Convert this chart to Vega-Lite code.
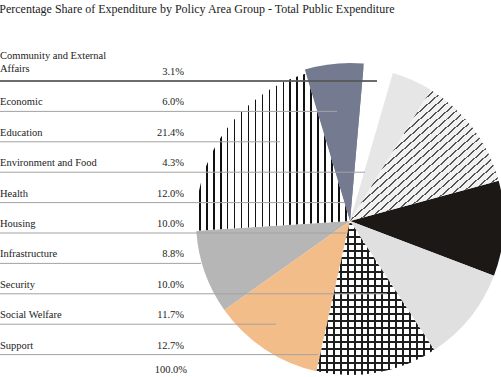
{
  "$schema": "https://vega.github.io/schema/vega-lite/v6.json",
  "width": 501,
  "height": 357,
  "autosize": "none",
  "padding": {"top": 20, "left": 0, "right": 0, "bottom": 0},
  "background": "white",
  "title": {"text": "Percentage Share of Expenditure by Policy Area Group - Total Public Expenditure", "anchor": "start", "font": "Liberation Serif", "fontSize": 12, "fontWeight": "normal", "color": "#222222", "offset": 4},
  "config": {"view": {"stroke": null}},
  "data": {"values": [
    {"Category": "Community and External Affairs", "pct": 3.1, "order": 1, "pie": 1},
    {"Category": "Economic", "pct": 6.0, "order": 2, "pie": 10},
    {"Category": "Education", "pct": 21.4, "order": 3, "pie": 9},
    {"Category": "Environment and Food", "pct": 4.3, "order": 4, "pie": 2},
    {"Category": "Health", "pct": 12.0, "order": 5, "pie": 3},
    {"Category": "Housing", "pct": 10.0, "order": 6, "pie": 4},
    {"Category": "Infrastructure", "pct": 8.8, "order": 7, "pie": 8},
    {"Category": "Security", "pct": 10.0, "order": 8, "pie": 5},
    {"Category": "Social Welfare", "pct": 11.7, "order": 9, "pie": 7},
    {"Category": "Support", "pct": 12.7, "order": 10, "pie": 6}
  ]},
  "transform": [
    {"stack": "pct", "groupby": [], "sort": [{"field": "pie", "order": "ascending"}], "as": ["v0", "v1"]},
    {"calculate": "format(datum.pct, '.1f') + '%'", "as": "pctLabel"}
  ],
  "layer": [
    {
      "mark": {"type": "arc", "radius": 154},
      "encoding": {
        "x": {"datum": 350, "type": "quantitative", "scale": {"domain": [0, 501], "nice": false, "zero": false}, "axis": null},
        "y": {"datum": 5.605, "type": "quantitative", "scale": {"domain": [-1.00658, 10.7368], "nice": false, "zero": false, "reverse": true}, "axis": null},
        "theta": {"field": "v0", "type": "quantitative", "scale": {"domain": [0, 100], "range": [0.0873, 6.3705]}},
        "theta2": {"field": "v1"},
        "fill": {"field": "Category", "type": "nominal", "legend": null,
          "scale": {"domain": ["Community and External Affairs", "Economic", "Education", "Environment and Food", "Health", "Housing", "Infrastructure", "Security", "Social Welfare", "Support"],
                    "range": ["#ffffff", "#747b90", "#ffffff", "#e6e6e6", "#f2f2f2", "#1b1816", "#b6b6b6", "#e0e0e0", "#f3bd8a", "#ffffff"]}}
      }
    },
    {
      "transform": [{"filter": "datum.Category == 'Health'"}],
      "mark": {"type": "arc", "radius": 154, "fill": {"gradient": "linear", "x1": 0, "y1": 0, "x2": 1, "y2": 1, "stops": [
        {"offset": 0, "color": "#f2f2f2"},
        {"offset": 0.0100, "color": "#f2f2f2"}, {"offset": 0.0100, "color": "#555555"}, {"offset": 0.0167, "color": "#555555"}, {"offset": 0.0167, "color": "#f2f2f2"},
        {"offset": 0.0403, "color": "#f2f2f2"}, {"offset": 0.0403, "color": "#555555"}, {"offset": 0.0470, "color": "#555555"}, {"offset": 0.0470, "color": "#f2f2f2"},
        {"offset": 0.0706, "color": "#f2f2f2"}, {"offset": 0.0706, "color": "#555555"}, {"offset": 0.0773, "color": "#555555"}, {"offset": 0.0773, "color": "#f2f2f2"},
        {"offset": 0.1009, "color": "#f2f2f2"}, {"offset": 0.1009, "color": "#555555"}, {"offset": 0.1076, "color": "#555555"}, {"offset": 0.1076, "color": "#f2f2f2"},
        {"offset": 0.1312, "color": "#f2f2f2"}, {"offset": 0.1312, "color": "#555555"}, {"offset": 0.1379, "color": "#555555"}, {"offset": 0.1379, "color": "#f2f2f2"},
        {"offset": 0.1615, "color": "#f2f2f2"}, {"offset": 0.1615, "color": "#555555"}, {"offset": 0.1682, "color": "#555555"}, {"offset": 0.1682, "color": "#f2f2f2"},
        {"offset": 0.1918, "color": "#f2f2f2"}, {"offset": 0.1918, "color": "#555555"}, {"offset": 0.1985, "color": "#555555"}, {"offset": 0.1985, "color": "#f2f2f2"},
        {"offset": 0.2221, "color": "#f2f2f2"}, {"offset": 0.2221, "color": "#555555"}, {"offset": 0.2288, "color": "#555555"}, {"offset": 0.2288, "color": "#f2f2f2"},
        {"offset": 0.2524, "color": "#f2f2f2"}, {"offset": 0.2524, "color": "#555555"}, {"offset": 0.2591, "color": "#555555"}, {"offset": 0.2591, "color": "#f2f2f2"},
        {"offset": 0.2827, "color": "#f2f2f2"}, {"offset": 0.2827, "color": "#555555"}, {"offset": 0.2894, "color": "#555555"}, {"offset": 0.2894, "color": "#f2f2f2"},
        {"offset": 0.3130, "color": "#f2f2f2"}, {"offset": 0.3130, "color": "#555555"}, {"offset": 0.3197, "color": "#555555"}, {"offset": 0.3197, "color": "#f2f2f2"},
        {"offset": 0.3433, "color": "#f2f2f2"}, {"offset": 0.3433, "color": "#555555"}, {"offset": 0.3500, "color": "#555555"}, {"offset": 0.3500, "color": "#f2f2f2"},
        {"offset": 0.3736, "color": "#f2f2f2"}, {"offset": 0.3736, "color": "#555555"}, {"offset": 0.3803, "color": "#555555"}, {"offset": 0.3803, "color": "#f2f2f2"},
        {"offset": 0.4039, "color": "#f2f2f2"}, {"offset": 0.4039, "color": "#555555"}, {"offset": 0.4106, "color": "#555555"}, {"offset": 0.4106, "color": "#f2f2f2"},
        {"offset": 0.4342, "color": "#f2f2f2"}, {"offset": 0.4342, "color": "#555555"}, {"offset": 0.4409, "color": "#555555"}, {"offset": 0.4409, "color": "#f2f2f2"},
        {"offset": 0.4645, "color": "#f2f2f2"}, {"offset": 0.4645, "color": "#555555"}, {"offset": 0.4712, "color": "#555555"}, {"offset": 0.4712, "color": "#f2f2f2"},
        {"offset": 0.4948, "color": "#f2f2f2"}, {"offset": 0.4948, "color": "#555555"}, {"offset": 0.5015, "color": "#555555"}, {"offset": 0.5015, "color": "#f2f2f2"},
        {"offset": 0.5252, "color": "#f2f2f2"}, {"offset": 0.5252, "color": "#555555"}, {"offset": 0.5319, "color": "#555555"}, {"offset": 0.5319, "color": "#f2f2f2"},
        {"offset": 0.5555, "color": "#f2f2f2"}, {"offset": 0.5555, "color": "#555555"}, {"offset": 0.5622, "color": "#555555"}, {"offset": 0.5622, "color": "#f2f2f2"},
        {"offset": 0.5858, "color": "#f2f2f2"}, {"offset": 0.5858, "color": "#555555"}, {"offset": 0.5925, "color": "#555555"}, {"offset": 0.5925, "color": "#f2f2f2"},
        {"offset": 0.6161, "color": "#f2f2f2"}, {"offset": 0.6161, "color": "#555555"}, {"offset": 0.6228, "color": "#555555"}, {"offset": 0.6228, "color": "#f2f2f2"},
        {"offset": 0.6464, "color": "#f2f2f2"}, {"offset": 0.6464, "color": "#555555"}, {"offset": 0.6531, "color": "#555555"}, {"offset": 0.6531, "color": "#f2f2f2"},
        {"offset": 0.6767, "color": "#f2f2f2"}, {"offset": 0.6767, "color": "#555555"}, {"offset": 0.6834, "color": "#555555"}, {"offset": 0.6834, "color": "#f2f2f2"},
        {"offset": 0.7070, "color": "#f2f2f2"}, {"offset": 0.7070, "color": "#555555"}, {"offset": 0.7137, "color": "#555555"}, {"offset": 0.7137, "color": "#f2f2f2"},
        {"offset": 0.7373, "color": "#f2f2f2"}, {"offset": 0.7373, "color": "#555555"}, {"offset": 0.7440, "color": "#555555"}, {"offset": 0.7440, "color": "#f2f2f2"},
        {"offset": 0.7676, "color": "#f2f2f2"}, {"offset": 0.7676, "color": "#555555"}, {"offset": 0.7743, "color": "#555555"}, {"offset": 0.7743, "color": "#f2f2f2"},
        {"offset": 0.7979, "color": "#f2f2f2"}, {"offset": 0.7979, "color": "#555555"}, {"offset": 0.8046, "color": "#555555"}, {"offset": 0.8046, "color": "#f2f2f2"},
        {"offset": 0.8282, "color": "#f2f2f2"}, {"offset": 0.8282, "color": "#555555"}, {"offset": 0.8349, "color": "#555555"}, {"offset": 0.8349, "color": "#f2f2f2"},
        {"offset": 0.8585, "color": "#f2f2f2"}, {"offset": 0.8585, "color": "#555555"}, {"offset": 0.8652, "color": "#555555"}, {"offset": 0.8652, "color": "#f2f2f2"},
        {"offset": 0.8888, "color": "#f2f2f2"}, {"offset": 0.8888, "color": "#555555"}, {"offset": 0.8955, "color": "#555555"}, {"offset": 0.8955, "color": "#f2f2f2"},
        {"offset": 0.9191, "color": "#f2f2f2"}, {"offset": 0.9191, "color": "#555555"}, {"offset": 0.9258, "color": "#555555"}, {"offset": 0.9258, "color": "#f2f2f2"},
        {"offset": 0.9494, "color": "#f2f2f2"}, {"offset": 0.9494, "color": "#555555"}, {"offset": 0.9561, "color": "#555555"}, {"offset": 0.9561, "color": "#f2f2f2"},
        {"offset": 0.9797, "color": "#f2f2f2"}, {"offset": 0.9797, "color": "#555555"}, {"offset": 0.9864, "color": "#555555"}, {"offset": 0.9864, "color": "#f2f2f2"},
        {"offset": 1, "color": "#f2f2f2"}
      ]}},
      "encoding": {
        "x": {"datum": 350, "type": "quantitative", "axis": null},
        "y": {"datum": 5.605, "type": "quantitative", "axis": null},
        "theta": {"field": "v0", "type": "quantitative", "scale": {"domain": [0, 100], "range": [0.0873, 6.3705]}},
        "theta2": {"field": "v1"}
      }
    },
    {
      "transform": [{"filter": "datum.Category == 'Education'"}],
      "mark": {"type": "arc", "radius": 154, "fill": {"gradient": "linear", "x1": 0, "y1": 0, "x2": 1, "y2": 0, "stops": [
        {"offset": 0, "color": "#ffffff"},
        {"offset": 0.0200, "color": "#ffffff"}, {"offset": 0.0200, "color": "#111111"}, {"offset": 0.0303, "color": "#111111"}, {"offset": 0.0303, "color": "#ffffff"},
        {"offset": 0.0652, "color": "#ffffff"}, {"offset": 0.0652, "color": "#111111"}, {"offset": 0.0755, "color": "#111111"}, {"offset": 0.0755, "color": "#ffffff"},
        {"offset": 0.1103, "color": "#ffffff"}, {"offset": 0.1103, "color": "#111111"}, {"offset": 0.1206, "color": "#111111"}, {"offset": 0.1206, "color": "#ffffff"},
        {"offset": 0.1555, "color": "#ffffff"}, {"offset": 0.1555, "color": "#111111"}, {"offset": 0.1658, "color": "#111111"}, {"offset": 0.1658, "color": "#ffffff"},
        {"offset": 0.2006, "color": "#ffffff"}, {"offset": 0.2006, "color": "#111111"}, {"offset": 0.2109, "color": "#111111"}, {"offset": 0.2109, "color": "#ffffff"},
        {"offset": 0.2458, "color": "#ffffff"}, {"offset": 0.2458, "color": "#111111"}, {"offset": 0.2561, "color": "#111111"}, {"offset": 0.2561, "color": "#ffffff"},
        {"offset": 0.2910, "color": "#ffffff"}, {"offset": 0.2910, "color": "#111111"}, {"offset": 0.3013, "color": "#111111"}, {"offset": 0.3013, "color": "#ffffff"},
        {"offset": 0.3361, "color": "#ffffff"}, {"offset": 0.3361, "color": "#111111"}, {"offset": 0.3464, "color": "#111111"}, {"offset": 0.3464, "color": "#ffffff"},
        {"offset": 0.3813, "color": "#ffffff"}, {"offset": 0.3813, "color": "#111111"}, {"offset": 0.3916, "color": "#111111"}, {"offset": 0.3916, "color": "#ffffff"},
        {"offset": 0.4264, "color": "#ffffff"}, {"offset": 0.4264, "color": "#111111"}, {"offset": 0.4367, "color": "#111111"}, {"offset": 0.4367, "color": "#ffffff"},
        {"offset": 0.4716, "color": "#ffffff"}, {"offset": 0.4716, "color": "#111111"}, {"offset": 0.4819, "color": "#111111"}, {"offset": 0.4819, "color": "#ffffff"},
        {"offset": 0.5168, "color": "#ffffff"}, {"offset": 0.5168, "color": "#111111"}, {"offset": 0.5271, "color": "#111111"}, {"offset": 0.5271, "color": "#ffffff"},
        {"offset": 0.5619, "color": "#ffffff"}, {"offset": 0.5619, "color": "#111111"}, {"offset": 0.5722, "color": "#111111"}, {"offset": 0.5722, "color": "#ffffff"},
        {"offset": 0.6071, "color": "#ffffff"}, {"offset": 0.6071, "color": "#111111"}, {"offset": 0.6174, "color": "#111111"}, {"offset": 0.6174, "color": "#ffffff"},
        {"offset": 0.6522, "color": "#ffffff"}, {"offset": 0.6522, "color": "#111111"}, {"offset": 0.6625, "color": "#111111"}, {"offset": 0.6625, "color": "#ffffff"},
        {"offset": 0.6974, "color": "#ffffff"}, {"offset": 0.6974, "color": "#111111"}, {"offset": 0.7077, "color": "#111111"}, {"offset": 0.7077, "color": "#ffffff"},
        {"offset": 0.7426, "color": "#ffffff"}, {"offset": 0.7426, "color": "#111111"}, {"offset": 0.7529, "color": "#111111"}, {"offset": 0.7529, "color": "#ffffff"},
        {"offset": 0.7877, "color": "#ffffff"}, {"offset": 0.7877, "color": "#111111"}, {"offset": 0.7980, "color": "#111111"}, {"offset": 0.7980, "color": "#ffffff"},
        {"offset": 0.8329, "color": "#ffffff"}, {"offset": 0.8329, "color": "#111111"}, {"offset": 0.8432, "color": "#111111"}, {"offset": 0.8432, "color": "#ffffff"},
        {"offset": 0.8780, "color": "#ffffff"}, {"offset": 0.8780, "color": "#111111"}, {"offset": 0.8883, "color": "#111111"}, {"offset": 0.8883, "color": "#ffffff"},
        {"offset": 0.9232, "color": "#ffffff"}, {"offset": 0.9232, "color": "#111111"}, {"offset": 0.9335, "color": "#111111"}, {"offset": 0.9335, "color": "#ffffff"},
        {"offset": 0.9684, "color": "#ffffff"}, {"offset": 0.9684, "color": "#111111"}, {"offset": 0.9787, "color": "#111111"}, {"offset": 0.9787, "color": "#ffffff"},
        {"offset": 1, "color": "#ffffff"}
      ]}},
      "encoding": {
        "x": {"datum": 350, "type": "quantitative", "axis": null},
        "y": {"datum": 5.605, "type": "quantitative", "axis": null},
        "theta": {"field": "v0", "type": "quantitative", "scale": {"domain": [0, 100], "range": [0.0873, 6.3705]}},
        "theta2": {"field": "v1"}
      }
    },
    {
      "transform": [{"filter": "datum.Category == 'Economic'"}],
      "mark": {"type": "arc", "radius": 158, "fill": "#747b90"},
      "encoding": {
        "x": {"datum": 350, "type": "quantitative", "axis": null},
        "y": {"datum": 5.605, "type": "quantitative", "axis": null},
        "theta": {"field": "v0", "type": "quantitative", "scale": {"domain": [0, 100], "range": [0.0873, 6.3705]}},
        "theta2": {"field": "v1"}
      }
    },
    {
      "transform": [{"filter": "datum.Category == 'Support'"}],
      "mark": {"type": "arc", "radius": 154, "fill": {"gradient": "linear", "x1": 0, "y1": 0, "x2": 1, "y2": 0, "stops": [
        {"offset": 0, "color": "#ffffff"},
        {"offset": 0.020, "color": "#ffffff"}, {"offset": 0.020, "color": "#1e1e1e"}, {"offset": 0.037, "color": "#1e1e1e"}, {"offset": 0.037, "color": "#ffffff"},
        {"offset": 0.079, "color": "#ffffff"}, {"offset": 0.079, "color": "#1e1e1e"}, {"offset": 0.096, "color": "#1e1e1e"}, {"offset": 0.096, "color": "#ffffff"},
        {"offset": 0.138, "color": "#ffffff"}, {"offset": 0.138, "color": "#1e1e1e"}, {"offset": 0.155, "color": "#1e1e1e"}, {"offset": 0.155, "color": "#ffffff"},
        {"offset": 0.197, "color": "#ffffff"}, {"offset": 0.197, "color": "#1e1e1e"}, {"offset": 0.214, "color": "#1e1e1e"}, {"offset": 0.214, "color": "#ffffff"},
        {"offset": 0.256, "color": "#ffffff"}, {"offset": 0.256, "color": "#1e1e1e"}, {"offset": 0.273, "color": "#1e1e1e"}, {"offset": 0.273, "color": "#ffffff"},
        {"offset": 0.315, "color": "#ffffff"}, {"offset": 0.315, "color": "#1e1e1e"}, {"offset": 0.332, "color": "#1e1e1e"}, {"offset": 0.332, "color": "#ffffff"},
        {"offset": 0.374, "color": "#ffffff"}, {"offset": 0.374, "color": "#1e1e1e"}, {"offset": 0.391, "color": "#1e1e1e"}, {"offset": 0.391, "color": "#ffffff"},
        {"offset": 0.433, "color": "#ffffff"}, {"offset": 0.433, "color": "#1e1e1e"}, {"offset": 0.450, "color": "#1e1e1e"}, {"offset": 0.450, "color": "#ffffff"},
        {"offset": 0.492, "color": "#ffffff"}, {"offset": 0.492, "color": "#1e1e1e"}, {"offset": 0.509, "color": "#1e1e1e"}, {"offset": 0.509, "color": "#ffffff"},
        {"offset": 0.551, "color": "#ffffff"}, {"offset": 0.551, "color": "#1e1e1e"}, {"offset": 0.568, "color": "#1e1e1e"}, {"offset": 0.568, "color": "#ffffff"},
        {"offset": 0.610, "color": "#ffffff"}, {"offset": 0.610, "color": "#1e1e1e"}, {"offset": 0.627, "color": "#1e1e1e"}, {"offset": 0.627, "color": "#ffffff"},
        {"offset": 0.669, "color": "#ffffff"}, {"offset": 0.669, "color": "#1e1e1e"}, {"offset": 0.686, "color": "#1e1e1e"}, {"offset": 0.686, "color": "#ffffff"},
        {"offset": 0.728, "color": "#ffffff"}, {"offset": 0.728, "color": "#1e1e1e"}, {"offset": 0.745, "color": "#1e1e1e"}, {"offset": 0.745, "color": "#ffffff"},
        {"offset": 0.787, "color": "#ffffff"}, {"offset": 0.787, "color": "#1e1e1e"}, {"offset": 0.804, "color": "#1e1e1e"}, {"offset": 0.804, "color": "#ffffff"},
        {"offset": 0.846, "color": "#ffffff"}, {"offset": 0.846, "color": "#1e1e1e"}, {"offset": 0.863, "color": "#1e1e1e"}, {"offset": 0.863, "color": "#ffffff"},
        {"offset": 0.905, "color": "#ffffff"}, {"offset": 0.905, "color": "#1e1e1e"}, {"offset": 0.922, "color": "#1e1e1e"}, {"offset": 0.922, "color": "#ffffff"},
        {"offset": 0.964, "color": "#ffffff"}, {"offset": 0.964, "color": "#1e1e1e"}, {"offset": 0.981, "color": "#1e1e1e"}, {"offset": 0.981, "color": "#ffffff"},
        {"offset": 1, "color": "#ffffff"}
      ]}},
      "encoding": {
        "x": {"datum": 350, "type": "quantitative", "axis": null},
        "y": {"datum": 5.605, "type": "quantitative", "axis": null},
        "theta": {"field": "v0", "type": "quantitative", "scale": {"domain": [0, 100], "range": [0.0873, 6.3705]}},
        "theta2": {"field": "v1"}
      }
    },
    {
      "transform": [{"filter": "datum.Category == 'Support'"}],
      "mark": {"type": "arc", "radius": 154, "fill": {"gradient": "linear", "x1": 0, "y1": 0, "x2": 0, "y2": 1, "stops": [
        {"offset": 0, "color": "rgba(255,255,255,0)"},
        {"offset": 0.010, "color": "rgba(255,255,255,0)"}, {"offset": 0.010, "color": "#1e1e1e"}, {"offset": 0.023, "color": "#1e1e1e"}, {"offset": 0.023, "color": "rgba(255,255,255,0)"},
        {"offset": 0.055, "color": "rgba(255,255,255,0)"}, {"offset": 0.055, "color": "#1e1e1e"}, {"offset": 0.068, "color": "#1e1e1e"}, {"offset": 0.068, "color": "rgba(255,255,255,0)"},
        {"offset": 0.100, "color": "rgba(255,255,255,0)"}, {"offset": 0.100, "color": "#1e1e1e"}, {"offset": 0.113, "color": "#1e1e1e"}, {"offset": 0.113, "color": "rgba(255,255,255,0)"},
        {"offset": 0.146, "color": "rgba(255,255,255,0)"}, {"offset": 0.146, "color": "#1e1e1e"}, {"offset": 0.159, "color": "#1e1e1e"}, {"offset": 0.159, "color": "rgba(255,255,255,0)"},
        {"offset": 0.191, "color": "rgba(255,255,255,0)"}, {"offset": 0.191, "color": "#1e1e1e"}, {"offset": 0.204, "color": "#1e1e1e"}, {"offset": 0.204, "color": "rgba(255,255,255,0)"},
        {"offset": 0.236, "color": "rgba(255,255,255,0)"}, {"offset": 0.236, "color": "#1e1e1e"}, {"offset": 0.249, "color": "#1e1e1e"}, {"offset": 0.249, "color": "rgba(255,255,255,0)"},
        {"offset": 0.281, "color": "rgba(255,255,255,0)"}, {"offset": 0.281, "color": "#1e1e1e"}, {"offset": 0.294, "color": "#1e1e1e"}, {"offset": 0.294, "color": "rgba(255,255,255,0)"},
        {"offset": 0.326, "color": "rgba(255,255,255,0)"}, {"offset": 0.326, "color": "#1e1e1e"}, {"offset": 0.339, "color": "#1e1e1e"}, {"offset": 0.339, "color": "rgba(255,255,255,0)"},
        {"offset": 0.372, "color": "rgba(255,255,255,0)"}, {"offset": 0.372, "color": "#1e1e1e"}, {"offset": 0.385, "color": "#1e1e1e"}, {"offset": 0.385, "color": "rgba(255,255,255,0)"},
        {"offset": 0.417, "color": "rgba(255,255,255,0)"}, {"offset": 0.417, "color": "#1e1e1e"}, {"offset": 0.430, "color": "#1e1e1e"}, {"offset": 0.430, "color": "rgba(255,255,255,0)"},
        {"offset": 0.462, "color": "rgba(255,255,255,0)"}, {"offset": 0.462, "color": "#1e1e1e"}, {"offset": 0.475, "color": "#1e1e1e"}, {"offset": 0.475, "color": "rgba(255,255,255,0)"},
        {"offset": 0.507, "color": "rgba(255,255,255,0)"}, {"offset": 0.507, "color": "#1e1e1e"}, {"offset": 0.520, "color": "#1e1e1e"}, {"offset": 0.520, "color": "rgba(255,255,255,0)"},
        {"offset": 0.552, "color": "rgba(255,255,255,0)"}, {"offset": 0.552, "color": "#1e1e1e"}, {"offset": 0.565, "color": "#1e1e1e"}, {"offset": 0.565, "color": "rgba(255,255,255,0)"},
        {"offset": 0.598, "color": "rgba(255,255,255,0)"}, {"offset": 0.598, "color": "#1e1e1e"}, {"offset": 0.611, "color": "#1e1e1e"}, {"offset": 0.611, "color": "rgba(255,255,255,0)"},
        {"offset": 0.643, "color": "rgba(255,255,255,0)"}, {"offset": 0.643, "color": "#1e1e1e"}, {"offset": 0.656, "color": "#1e1e1e"}, {"offset": 0.656, "color": "rgba(255,255,255,0)"},
        {"offset": 0.688, "color": "rgba(255,255,255,0)"}, {"offset": 0.688, "color": "#1e1e1e"}, {"offset": 0.701, "color": "#1e1e1e"}, {"offset": 0.701, "color": "rgba(255,255,255,0)"},
        {"offset": 0.733, "color": "rgba(255,255,255,0)"}, {"offset": 0.733, "color": "#1e1e1e"}, {"offset": 0.746, "color": "#1e1e1e"}, {"offset": 0.746, "color": "rgba(255,255,255,0)"},
        {"offset": 0.778, "color": "rgba(255,255,255,0)"}, {"offset": 0.778, "color": "#1e1e1e"}, {"offset": 0.791, "color": "#1e1e1e"}, {"offset": 0.791, "color": "rgba(255,255,255,0)"},
        {"offset": 0.824, "color": "rgba(255,255,255,0)"}, {"offset": 0.824, "color": "#1e1e1e"}, {"offset": 0.837, "color": "#1e1e1e"}, {"offset": 0.837, "color": "rgba(255,255,255,0)"},
        {"offset": 0.869, "color": "rgba(255,255,255,0)"}, {"offset": 0.869, "color": "#1e1e1e"}, {"offset": 0.882, "color": "#1e1e1e"}, {"offset": 0.882, "color": "rgba(255,255,255,0)"},
        {"offset": 0.914, "color": "rgba(255,255,255,0)"}, {"offset": 0.914, "color": "#1e1e1e"}, {"offset": 0.927, "color": "#1e1e1e"}, {"offset": 0.927, "color": "rgba(255,255,255,0)"},
        {"offset": 0.959, "color": "rgba(255,255,255,0)"}, {"offset": 0.959, "color": "#1e1e1e"}, {"offset": 0.972, "color": "#1e1e1e"}, {"offset": 0.972, "color": "rgba(255,255,255,0)"},
        {"offset": 1, "color": "rgba(255,255,255,0)"}
      ]}},
      "encoding": {
        "x": {"datum": 350, "type": "quantitative", "axis": null},
        "y": {"datum": 5.605, "type": "quantitative", "axis": null},
        "theta": {"field": "v0", "type": "quantitative", "scale": {"domain": [0, 100], "range": [0.0873, 6.3705]}},
        "theta2": {"field": "v1"}
      }
    },
    {
      "transform": [
        {"calculate": "datum.order==1?377:datum.order==2?337:datum.order==3?280:datum.order==4?365:datum.order==5?345:datum.order==6?346:datum.order==7?201:datum.order==8?387:datum.order==9?276:318", "as": "leadEnd"},
        {"calculate": "0", "as": "leadStart"}
      ],
      "mark": {"type": "rule", "color": "#a3a3a3", "strokeWidth": 1},
      "encoding": {
        "x": {"field": "leadStart", "type": "quantitative", "axis": null},
        "x2": {"field": "leadEnd"},
        "y": {"field": "order", "type": "quantitative", "axis": null}
      }
    },
    {
      "transform": [{"filter": "datum.order == 1"}, {"calculate": "377", "as": "leadEnd"}, {"calculate": "0", "as": "leadStart"}],
      "mark": {"type": "rule", "color": "#4a4a4a", "strokeWidth": 1.4},
      "encoding": {
        "x": {"field": "leadStart", "type": "quantitative", "axis": null},
        "x2": {"field": "leadEnd"},
        "y": {"field": "order", "type": "quantitative", "axis": null}
      }
    },
    {
      "transform": [{"filter": "datum.order != 1"}],
      "mark": {"type": "text", "align": "left", "baseline": "alphabetic", "dy": -6, "font": "Liberation Serif", "fontSize": 10.5, "color": "#222222"},
      "encoding": {
        "x": {"datum": 0, "type": "quantitative", "axis": null},
        "y": {"field": "order", "type": "quantitative", "axis": null},
        "text": {"field": "Category"}
      }
    },
    {
      "transform": [{"filter": "datum.order == 1"}, {"calculate": "['Community and  External', 'Affairs']", "as": "lines"}],
      "mark": {"type": "text", "align": "left", "baseline": "alphabetic", "dy": -22, "lineHeight": 13, "font": "Liberation Serif", "fontSize": 10.5, "color": "#222222"},
      "encoding": {
        "x": {"datum": 0, "type": "quantitative", "axis": null},
        "y": {"field": "order", "type": "quantitative", "axis": null},
        "text": {"field": "lines"}
      }
    },
    {
      "mark": {"type": "text", "align": "right", "baseline": "alphabetic", "dy": -6, "font": "Liberation Serif", "fontSize": 10.5, "color": "#222222"},
      "encoding": {
        "x": {"datum": 184, "type": "quantitative", "axis": null},
        "y": {"field": "order", "type": "quantitative", "axis": null},
        "text": {"field": "pctLabel"}
      }
    },
    {
      "transform": [{"aggregate": [{"op": "sum", "field": "pct", "as": "total"}]}, {"calculate": "format(datum.total, '.1f') + '%'", "as": "totalLabel"}],
      "mark": {"type": "text", "align": "right", "baseline": "alphabetic", "font": "Liberation Serif", "fontSize": 10.5, "color": "#222222"},
      "encoding": {
        "x": {"datum": 187, "type": "quantitative", "axis": null},
        "y": {"datum": 10.605, "type": "quantitative", "axis": null},
        "text": {"field": "totalLabel"}
      }
    }
  ]
}
